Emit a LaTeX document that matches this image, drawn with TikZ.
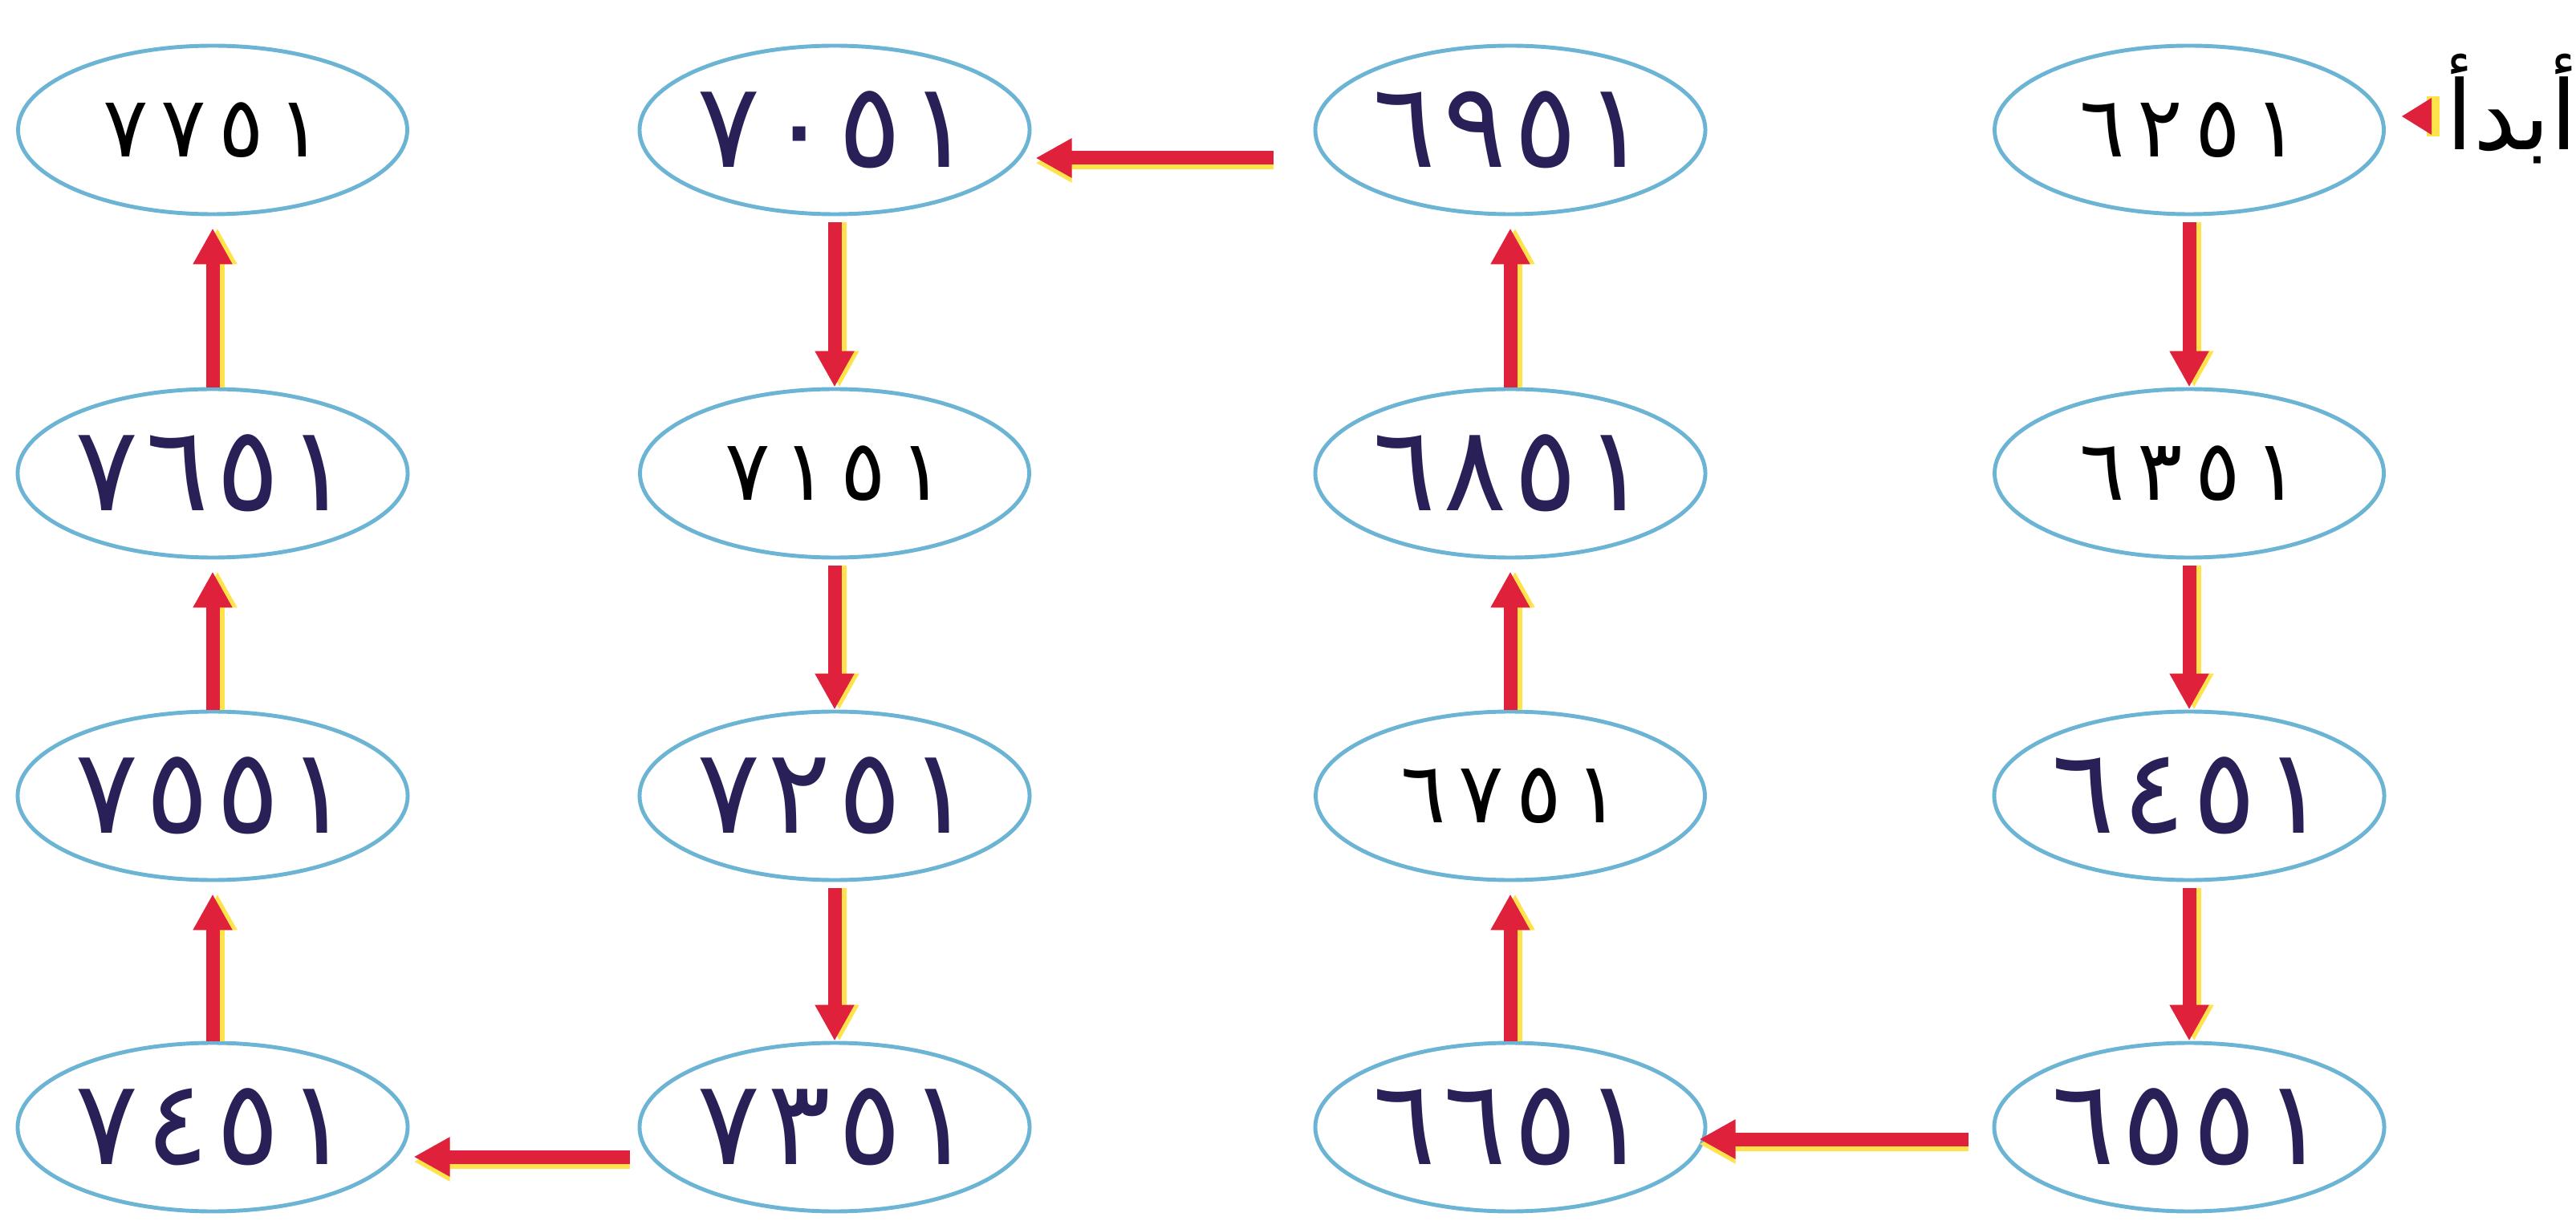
\documentclass[tikz,border=0pt]{standalone}
\usepackage{fontspec}
\newfontfamily\arabicfont[Script=Arabic]{DejaVu Sans}
\newfontfamily\printfont[LetterSpace=15]{DejaVu Sans}
\newfontfamily\handfont[LetterSpace=6]{DejaVu Sans}
\TeXXeTstate=1
\usetikzlibrary{shapes.geometric,arrows.meta}
\definecolor{ellblue}{HTML}{6CB4D4}
\definecolor{arrred}{HTML}{E0213C}
\definecolor{arryel}{HTML}{FFE34A}
\definecolor{handink}{HTML}{2A2058}
\begin{document}
\begin{tikzpicture}[
  numnode/.style={ellipse, draw=ellblue, line width=1.4pt, minimum width=4.85cm, minimum height=2.1cm, inner sep=0pt, fill=white},
  printed/.style={numnode, font=\printfont\fontsize{30}{33}\selectfont, text=black},
  hand/.style={numnode, font=\handfont\fontsize{42}{46}\selectfont, text=handink},
  redarr/.style={draw=arrred, line width=0.17cm, -{Triangle[length=0.45cm,width=0.46cm]}},
  yelarr/.style={draw=arryel, line width=0.17cm, -{Triangle[length=0.45cm,width=0.46cm]}},
]
\useasboundingbox[fill=white] (0,0) rectangle (32.10,-15.22);

% column A (right)
\node[printed] (A1) at (27.28,-1.62) {٦٢٥١};
\node[printed] (A2) at (27.28,-5.90) {٦٣٥١};
\node[hand]    (A3) at (27.28,-9.92) {٦٤٥١};
\node[hand]    (A4) at (27.28,-14.05) {٦٥٥١};
% column B
\node[hand]    (B1) at (18.82,-1.62) {٦٩٥١};
\node[hand]    (B2) at (18.82,-5.90) {٦٨٥١};
\node[printed] (B3) at (18.82,-9.92) {٦٧٥١};
\node[hand]    (B4) at (18.82,-14.05) {٦٦٥١};
% column C
\node[hand]    (C1) at (10.40,-1.62) {٧٠٥١};
\node[printed] (C2) at (10.40,-5.90) {٧١٥١};
\node[hand]    (C3) at (10.40,-9.92) {٧٢٥١};
\node[hand]    (C4) at (10.40,-14.05) {٧٣٥١};
% column D (left)
\node[printed] (D1) at (2.65,-1.62) {٧٧٥١};
\node[hand]    (D2) at (2.65,-5.90) {٧٦٥١};
\node[hand]    (D3) at (2.65,-9.92) {٧٥٥١};
\node[hand]    (D4) at (2.65,-14.05) {٧٤٥١};

% start label
\node[font=\arabicfont\fontsize{34}{37}\selectfont, text=black] (start) at (31.30,-1.36) {\beginR أبدأ\endR};
\fill[arryel] (30.24,-1.20) rectangle (30.40,-1.70);
\fill[arrred] (29.93,-1.45) -- (30.30,-1.22) -- (30.30,-1.68) -- cycle;

% vertical arrows: down in A and C, up in B and D
\foreach \u/\v in {A1/A2,A2/A3,A3/A4,C1/C2,C2/C3,C3/C4}{
  \draw[yelarr, transform canvas={xshift=0.06cm}, shorten <=0.08cm] (\u.south) -- (\v.north);
  \draw[redarr, shorten <=0.08cm] (\u.south) -- (\v.north);
}
\foreach \u/\v in {B4/B3,B3/B2,B2/B1,D4/D3,D3/D2,D2/D1}{
  \draw[yelarr, transform canvas={xshift=0.06cm}, shorten >=0.15cm] (\u.north) -- (\v.south);
  \draw[redarr, shorten >=0.15cm] (\u.north) -- (\v.south);
}

% horizontal arrows
\draw[yelarr, transform canvas={yshift=-0.06cm}, shorten <=0.50cm, shorten >=0.05cm] ([yshift=-0.35cm]B1.west) -- ([yshift=-0.35cm]C1.east);
\draw[redarr, shorten <=0.50cm, shorten >=0.05cm] ([yshift=-0.35cm]B1.west) -- ([yshift=-0.35cm]C1.east);
\draw[yelarr, transform canvas={yshift=-0.06cm}, shorten <=0.30cm, shorten >=-0.10cm] ([yshift=-0.15cm]A4.west) -- ([yshift=-0.15cm]B4.east);
\draw[redarr, shorten <=0.30cm, shorten >=-0.10cm] ([yshift=-0.15cm]A4.west) -- ([yshift=-0.15cm]B4.east);
\draw[yelarr, transform canvas={yshift=-0.06cm}, shorten <=0.10cm, shorten >=0.05cm] ([yshift=-0.37cm]C4.west) -- ([yshift=-0.37cm]D4.east);
\draw[redarr, shorten <=0.10cm, shorten >=0.05cm] ([yshift=-0.37cm]C4.west) -- ([yshift=-0.37cm]D4.east);
\end{tikzpicture}
\end{document}
